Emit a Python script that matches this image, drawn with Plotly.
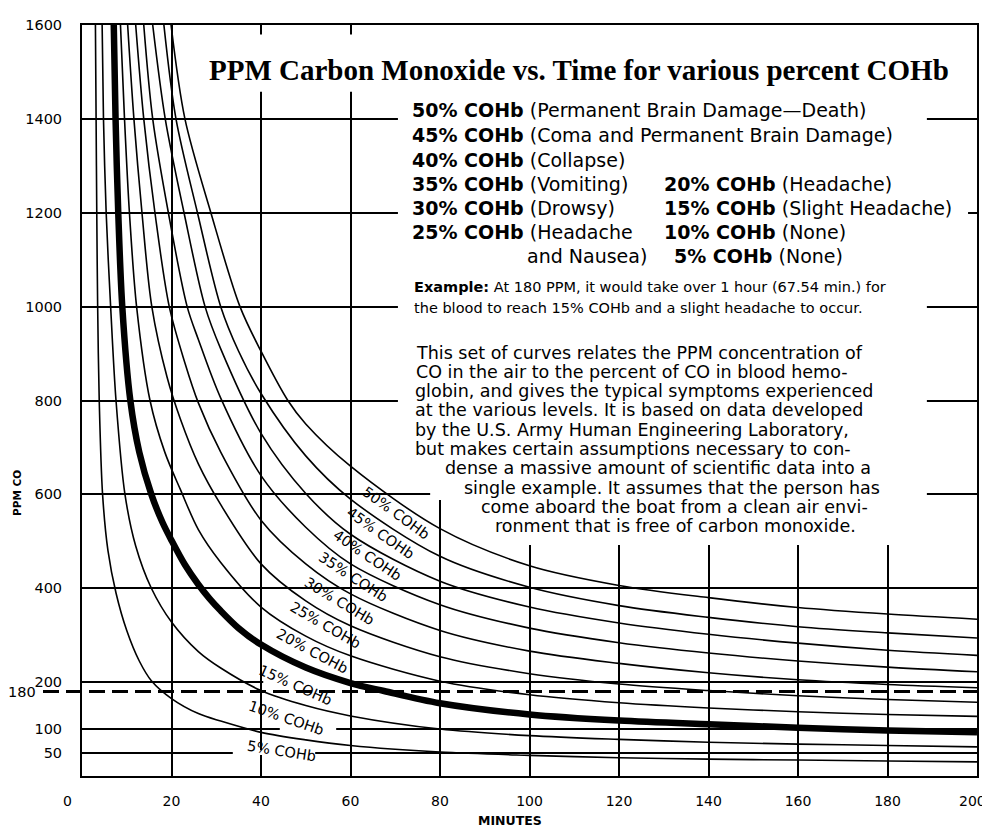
import plotly.graph_objects as go

# ---------------- data ----------------
minutes_ticks = [0, 20, 40, 60, 80, 100, 120, 140, 160, 180, 200]
ppm_ticks = [50, 100, 200, 400, 600, 800, 1000, 1200, 1400, 1600]

t5 = [3.0, 3.15, 3.3, 3.5, 3.85, 4.6, 5.8, 7.6, 10, 12.8, 15.5, 20, 26, 31, 40, 50, 60, 80, 100, 120, 140, 160, 180, 200]
p5 = [1600, 1400, 1200, 1000, 800, 600, 480, 390, 310, 245, 203, 165, 133, 117, 93, 77, 65, 51, 44, 39, 36, 34, 32, 30]

t10 = [4.5, 4.8, 5.4, 6.4, 7.6, 9.6, 12, 15.5, 20, 26, 31, 40, 50, 60, 80, 100, 120, 140, 160, 180, 200]
p10 = [1600, 1400, 1200, 1000, 800, 600, 490, 400, 328, 265, 230, 182, 150, 128, 100, 86, 78, 72, 68, 65, 62]

t15 = [7.1, 7.5, 8.1, 9.0, 10.8, 12.8, 15.5, 18, 20, 23, 26, 28.5, 31, 35, 40, 50, 60, 67.5, 80, 100, 120, 140, 160, 180, 200]
p15 = [1600, 1400, 1200, 1000, 800, 690, 600, 540, 502, 450, 408, 378, 352, 315, 280, 231, 198, 181, 155, 131, 118, 110, 103, 97, 93]

t20 = [8.6, 9.5, 10.6, 12.2, 15.2, 18.5, 22, 26, 31, 40, 50, 60, 80, 100, 120, 140, 160, 180, 200]
p20 = [1600, 1400, 1200, 1000, 800, 690, 610, 525, 455, 360, 298, 256, 202, 173, 156, 145, 137, 131, 127]

t25 = [10.2, 11.6, 13.4, 15.6, 19, 22, 26, 31, 40, 50, 60, 80, 100, 120, 140, 160, 180, 200]
p25 = [1600, 1400, 1200, 1000, 850, 760, 665, 578, 452, 373, 320, 254, 218, 196, 182, 171, 163, 157]

t30 = [12.0, 13.8, 16.3, 19.5, 23, 26, 31, 40, 50, 60, 80, 100, 120, 140, 160, 180, 200]
p30 = [1600, 1400, 1200, 1000, 880, 795, 690, 545, 452, 388, 310, 266, 240, 220, 205, 195, 188]

t35 = [13.8, 15.8, 19.3, 23.5, 26, 31, 40, 50, 60, 80, 100, 120, 140, 160, 180, 200]
p35 = [1600, 1400, 1200, 1000, 930, 805, 640, 530, 452, 365, 315, 284, 262, 245, 232, 222]

t40 = [15.8, 18.6, 22.8, 27.5, 31, 40, 50, 60, 80, 100, 120, 140, 160, 180, 200]
p40 = [1600, 1400, 1200, 1000, 910, 730, 602, 515, 415, 360, 326, 302, 283, 268, 257]

t45 = [18.3, 21, 25.8, 31, 35, 40, 50, 60, 80, 100, 120, 140, 160, 180, 200]
p45 = [1600, 1400, 1200, 1000, 905, 815, 682, 590, 468, 402, 363, 338, 318, 305, 294]

t50 = [19.9, 23, 28.8, 35.3, 40, 46, 50, 60, 80, 100, 120, 140, 160, 180, 200]
p50 = [1600, 1400, 1200, 1000, 905, 800, 750, 660, 527, 448, 406, 380, 359, 345, 334]

percent_levels = [5, 10, 15, 20, 25, 30, 35, 40, 45, 50]
curve_times = [t5, t10, t15, t20, t25, t30, t35, t40, t45, t50]
curve_ppm = [p5, p10, p15, p20, p25, p30, p35, p40, p45, p50]

example_ppm = 180

# curve label placement (minutes, ppm, angle)
label_pos = {
    50: (70.2, 561, 36), 45: (66.6, 517, 35), 40: (63.6, 470, 34), 35: (60.6, 424, 33),
    30: (57.4, 372, 31), 25: (54.3, 321, 30), 20: (51.4, 266, 28), 15: (47.6, 193, 24),
    10: (45.6, 123, 19), 5: (44.5, 54, 9),
}

title_text = "PPM Carbon Monoxide vs. Time for various percent COHb"
legend_lines = [
    (410, 103, "<b>50% COHb</b> (Permanent Brain Damage\u2014Death)"),
    (410, 128, "<b>45% COHb</b> (Coma and Permanent Brain Damage)"),
    (410, 153, "<b>40% COHb</b> (Collapse)"),
    (410, 178, "<b>35% COHb</b> (Vomiting)"),
    (662, 178, "<b>20% COHb</b> (Headache)"),
    (410, 202, "<b>30% COHb</b> (Drowsy)"),
    (662, 202, "<b>15% COHb</b> (Slight Headache)"),
    (410, 226, "<b>25% COHb</b> (Headache"),
    (662, 226, "<b>10% COHb</b> (None)"),
    (525, 250, "and Nausea)"),
    (672, 250, "<b>5% COHb</b> (None)"),
]
example_lines = [
    (412, 282, "<b>Example:</b> At 180 PPM, it would take over 1 hour (67.54 min.) for"),
    (412, 303, "the blood to reach 15% COHb and a slight headache to occur."),
]
para_lines = [
    (414, 348, "This set of curves relates the PPM concentration of"),
    (414, 367.5, "CO in the air to the percent of CO in blood hemo-"),
    (413, 387, "globin, and gives the typical symptoms experienced"),
    (413, 406.5, "at the various levels. It is based on data developed"),
    (413, 426, "by the U.S. Army Human Engineering Laboratory,"),
    (413, 445.5, "but makes certain assumptions necessary to con-"),
    (443, 465, "dense a massive amount of scientific data into a"),
    (462, 484.5, "single example. It assumes that the person has"),
    (479, 504, "come aboard the boat from a clean air envi-"),
    (493, 523.5, "ronment that is free of carbon monoxide."),
]

# ---------------- figure ----------------
PAGE_OFF = 8                      # default body margin of the html page
PW, PH = 895, 759                 # plot area size in pixels
ML, MT = 82 - PAGE_OFF, 17 - PAGE_OFF
W, H = 980, 820
MR = W - ML - PW
MB = H - MT - PH


def px2paper(px, py):
    return (px - PAGE_OFF - ML) / PW, 1 - (py - PAGE_OFF - MT) / PH


fig = go.Figure()
for pct, tt, pp in zip(percent_levels, curve_times, curve_ppm):
    fig.add_trace(go.Scatter(
        x=tt, y=pp, mode="lines",
        line=dict(color="black", width=6.5 if pct == 15 else 1.6, shape="spline", smoothing=0.9),
        hoverinfo="skip", showlegend=False, name=f"{pct}% COHb"))

SANS = "DejaVu Sans"
shapes = []


def mask(x0, x1, y0, y1):
    shapes.append(dict(type="rect", xref="x", yref="y", x0=x0, x1=x1, y0=y0, y1=y1,
                       fillcolor="white", line=dict(width=0), layer="between"))


# areas where the printed grid is covered by text
mask(26.4, 196.6, 1458, 1580)
mask(70.6, 188.8, 624, 1600)
mask(77.8, 188.8, 588, 624)
mask(83.4, 188.8, 492, 588)
mask(188.8, 198.0, 1184, 1214)
mask(40.5, 58.5, 194, 206)
mask(44.2, 56.8, 95, 105)
mask(33.7, 52.1, 45, 55)

# dashed 180 ppm reference line
x0, _ = px2paper(43, 0)
shapes.append(dict(type="line", xref="paper", yref="paper",
                   x0=x0, x1=1.0, y0=example_ppm / 1600, y1=example_ppm / 1600,
                   line=dict(color="black", width=2.8, dash="16px,7px"), layer="between"))

ann = []
for pct in percent_levels:
    x, y, a = label_pos[pct]
    ann.append(dict(x=x, y=y, xref="x", yref="y", text=f"{pct}% COHb", showarrow=False,
                    textangle=a, font=dict(family=SANS, size=14.5, color="black"),
                    xanchor="center", yanchor="middle"))

tx, ty = px2paper(207, 62)
ann.append(dict(x=tx, y=ty, xref="paper", yref="paper", text="<b>" + title_text + "</b>",
                showarrow=False, xanchor="left", yanchor="middle",
                font=dict(family="Liberation Serif", size=29, color="black")))

for px, py, txt in legend_lines:
    x, y = px2paper(px, py)
    ann.append(dict(x=x, y=y, xref="paper", yref="paper", text=txt, showarrow=False,
                    xanchor="left", yanchor="middle", font=dict(family=SANS, size=19, color="black")))
for px, py, txt in example_lines:
    x, y = px2paper(px, py)
    ann.append(dict(x=x, y=y, xref="paper", yref="paper", text=txt, showarrow=False,
                    xanchor="left", yanchor="middle", font=dict(family=SANS, size=14.5, color="black")))
for px, py, txt in para_lines:
    x, y = px2paper(px, py)
    ann.append(dict(x=x, y=y, xref="paper", yref="paper", text=txt, showarrow=False,
                    xanchor="left", yanchor="middle", font=dict(family=SANS, size=17.5, color="black")))

# 180 tick label, first/last x tick labels as printed, axis titles
ann.append(dict(x=px2paper(22, 0)[0], y=example_ppm, xref="paper", yref="y", text=str(example_ppm),
                showarrow=False, xanchor="center", yanchor="middle",
                font=dict(family=SANS, size=14.5, color="black")))
x, y = px2paper(988, 801)
ann.append(dict(x=x, y=y, xref="paper", yref="paper", text=str(minutes_ticks[-1]), showarrow=False,
                xanchor="right", yanchor="middle", font=dict(family=SANS, size=14, color="black")))
x, y = px2paper(67, 801)
ann.append(dict(x=x, y=y, xref="paper", yref="paper", text=str(minutes_ticks[0]), showarrow=False,
                xanchor="center", yanchor="middle", font=dict(family=SANS, size=14, color="black")))
x, y = px2paper(510, 821)
ann.append(dict(x=x, y=y, xref="paper", yref="paper", text="<b>MINUTES</b>", showarrow=False,
                xanchor="center", yanchor="middle", font=dict(family=SANS, size=12.5, color="black")))
x, y = px2paper(17, 490)
ann.append(dict(x=x, y=y, xref="paper", yref="paper", text="<b>PPM CO</b>", showarrow=False,
                textangle=-90, xanchor="center", yanchor="middle",
                font=dict(family=SANS, size=10.5, color="black")))

axis_common = dict(showgrid=True, gridcolor="black", gridwidth=1.6, showline=True, linecolor="black",
                   linewidth=2, mirror=True, zeroline=False, ticks="")

x_ticktext = [""] + [str(v) for v in minutes_ticks[1:-1]] + [""]

fig.update_layout(
    width=W, height=H, margin=dict(l=ML, r=MR, t=MT, b=MB),
    paper_bgcolor="white", plot_bgcolor="white",
    xaxis=dict(range=[0, 200], tickvals=minutes_ticks, ticktext=x_ticktext, ticklabelstandoff=11,
               tickfont=dict(family=SANS, size=14, color="black"), **axis_common),
    yaxis=dict(range=[0, 1600], tickvals=ppm_ticks, ticklabelstandoff=15,
               tickfont=dict(family=SANS, size=14.5, color="black"), **axis_common),
    shapes=shapes, annotations=ann, showlegend=False,
)

fig.write_html("out.html")
